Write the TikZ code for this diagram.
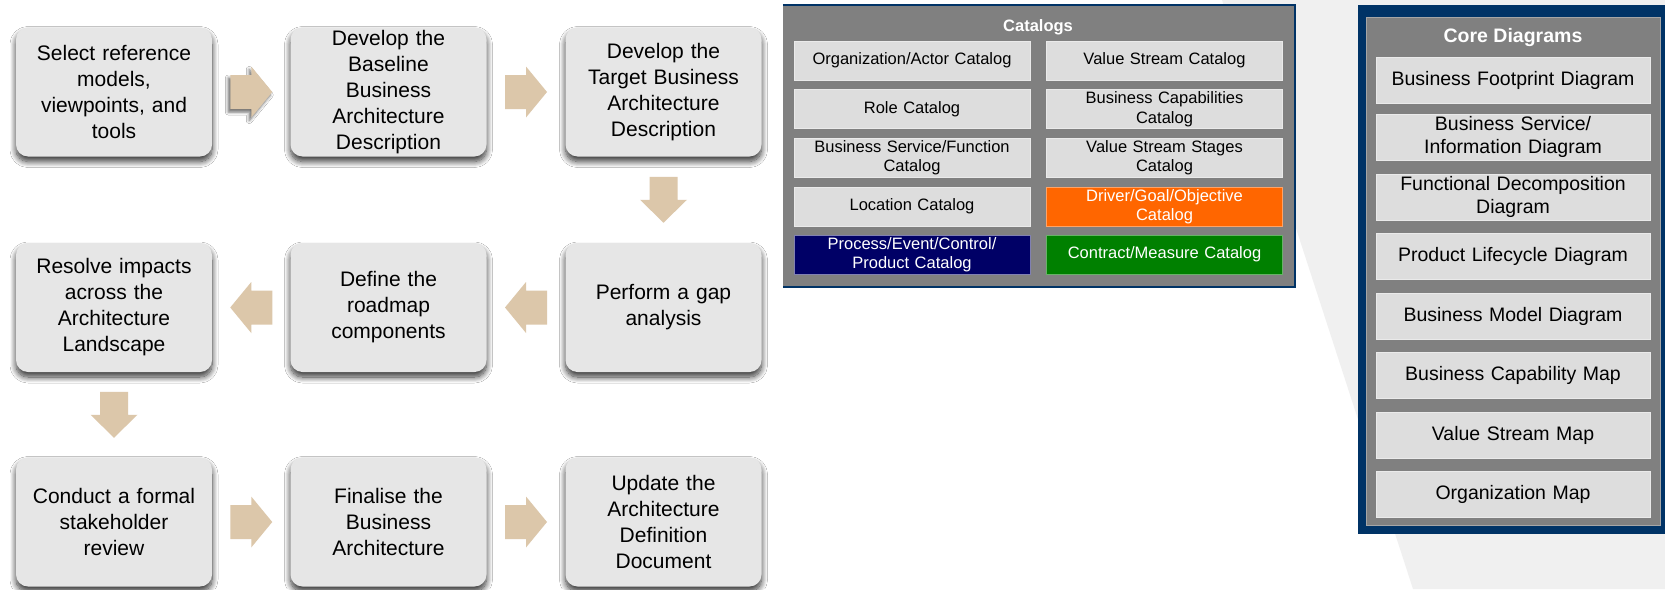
\documentclass[tikz,border=0pt]{standalone}
\usepackage{fontspec}
\setmainfont{Liberation Sans}
\usetikzlibrary{calc,shadows.blur}
\definecolor{boxfill}{HTML}{E6E6E6}
\definecolor{arrowtan}{HTML}{DCC7AA}
\definecolor{panelgray}{HTML}{808080}
\definecolor{cellgray}{HTML}{DDDDDD}
\definecolor{celledge}{HTML}{EAEAEA}
\definecolor{navyline}{HTML}{003366}
\definecolor{bgwedge}{HTML}{F0F0F0}
\definecolor{procnavy}{HTML}{000066}
\definecolor{drvorange}{HTML}{FF6600}
\definecolor{ctrgreen}{HTML}{008000}
\tikzset{
  flowbox/.style={rectangle, rounded corners=12, fill=boxfill, minimum width=196, minimum height=129,
    inner sep=0pt, text width=190, align=center, font=\fontsize{21}{26}\selectfont,
    blur shadow={shadow xshift=0pt, shadow yshift=-5pt, shadow blur radius=6pt, shadow opacity=80, shadow blur steps=12}},
  arrowfill/.style={fill=arrowtan},
  catcell/.style={rectangle, fill=cellgray, draw=celledge, line width=1, minimum width=236, minimum height=39,
    inner sep=0pt, text width=234, align=center, font=\fontsize{16.5}{19.5}\selectfont},
  corecell/.style={rectangle, fill=cellgray, draw=celledge, line width=1, minimum width=274, minimum height=46,
    inner sep=0pt, text width=270, align=center, font=\fontsize{19.5}{23}\selectfont},
  paneltitle/.style={text=white, inner sep=0pt},
}
\newcommand\harrow[5][]{% [opts]{from}{to}{rotation}{name}
  \coordinate (#5) at ($(#2)!0.5!(#3)$);
  \fill[arrowfill,shift={(#5)},rotate=#4,#1] (-21,-17) -- (0,-17) -- (0,-25.5) -- (21,0) -- (0,25.5) -- (0,17) -- (-21,17) -- cycle;
}
\newcommand\varrow[5][]{% [opts]{from}{to}{rotation}{name}
  \coordinate (#5) at ($(#2)!0.5!(#3)$);
  \fill[arrowfill,shift={(#5)},rotate=#4,#1] (-23,-14) -- (0,-14) -- (0,-23.5) -- (23,0) -- (0,23.5) -- (0,14) -- (-23,14) -- cycle;
}
\begin{document}
\begin{tikzpicture}[x=1pt,y=-1pt]
\useasboundingbox (0,0) rectangle (1665,589);
\fill[white] (0,0) rectangle (1665,589);
% background wedge
\fill[bgwedge] (1222,0) -- (1665,0) -- (1665,589) -- (1413,589) -- cycle;

% flow boxes
\node[flowbox] (b1) at (114,92) {Select reference\\models,\\viewpoints, and\\tools};
\node[flowbox] (b2) at (388.5,92) {Develop the\\Baseline\\Business\\Architecture\\Description};
\node[flowbox] (b3) at (663.5,92) {Develop the\\Target Business\\Architecture\\Description};
\node[flowbox] (b4) at (663.5,307.5) {Perform a gap\\analysis};
\node[flowbox] (b5) at (388.5,307.5) {Define the\\roadmap\\components};
\node[flowbox] (b6) at (114,307.5) {Resolve impacts\\across the\\Architecture\\Landscape};
\node[flowbox] (b7) at (114,522) {Conduct a formal\\stakeholder\\review};
\node[flowbox] (b8) at (388.5,522) {Finalise the\\Business\\Architecture};
\node[flowbox] (b9) at (663.5,522) {Update the\\Architecture\\Definition\\Document};

% block arrows
\harrow[blur shadow={shadow xshift=-2pt, shadow yshift=-3pt, shadow blur radius=3pt, shadow opacity=60}]{b1.east}{b2.west}{0}{a12}
\harrow{b2.east}{b3.west}{0}{a23}
\varrow{b3.south}{b4.north}{-90}{a34}
\harrow{b4.west}{b5.east}{180}{a45}
\harrow{b5.west}{b6.east}{180}{a56}
\varrow{b6.south}{b7.north}{-90}{a67}
\harrow{b7.east}{b8.west}{0}{a78}
\harrow{b8.east}{b9.west}{0}{a89}

% Catalogs panel
\node[rectangle, fill=panelgray, minimum width=512, minimum height=282, inner sep=0pt] (cat) at (1039,146) {};
\draw[navyline, line width=2.5] (cat.north west) -- (cat.north east) -- (cat.south east) -- (cat.south west);
\node[paneltitle, font=\fontsize{16.5}{19.5}\selectfont\bfseries] (cattitle) at (1038,27) {Catalogs};
\node[catcell] (c1) at (912,60.5) {Organization/Actor Catalog};
\node[catcell] (c2) at (1164.5,60.5) {Value Stream Catalog};
\node[catcell] (c3) at (912,109) {Role Catalog};
\node[catcell] (c4) at (1164.5,109) {Business Capabilities\\Catalog};
\node[catcell] (c5) at (912,157.5) {Business Service/Function\\Catalog};
\node[catcell] (c6) at (1164.5,157.5) {Value Stream Stages\\Catalog};
\node[catcell] (c7) at (912,206.5) {Location Catalog};
\node[catcell, fill=drvorange, draw=drvorange!60!white, text=white] (c8) at (1164.5,206.5) {Driver/Goal/Objective\\Catalog};
\node[catcell, fill=procnavy, draw=procnavy!50!white, text=white] (c9) at (912,254.5) {Process/Event/Control/\\Product Catalog};
\node[catcell, fill=ctrgreen, draw=ctrgreen!60!white, text=white] (c10) at (1164.5,254.5) {Contract/Measure Catalog};

% Core Diagrams panel
\node[rectangle, fill=navyline, minimum width=307, minimum height=529, inner sep=0pt] (core) at (1511.5,269.5) {};
\node[rectangle, fill=panelgray, draw=gray!70, line width=1, minimum width=294, minimum height=508, inner sep=0pt] (coreinner) at (1513,271) {};
\node[paneltitle, font=\fontsize{19.5}{23}\selectfont\bfseries] (coretitle) at (1513,38) {Core Diagrams};
\node[corecell] (d1) at (1513,80) {Business Footprint Diagram};
\node[corecell] (d2) at (1513,137) {Business Service/\\Information Diagram};
\node[corecell] (d3) at (1513,197) {Functional Decomposition\\Diagram};
\node[corecell] (d4) at (1513,256) {Product Lifecycle Diagram};
\node[corecell] (d5) at (1513,316.5) {Business Model Diagram};
\node[corecell] (d6) at (1513,375.5) {Business Capability Map};
\node[corecell] (d7) at (1513,435) {Value Stream Map};
\node[corecell] (d8) at (1513,494.5) {Organization Map};
\end{tikzpicture}
\end{document}
